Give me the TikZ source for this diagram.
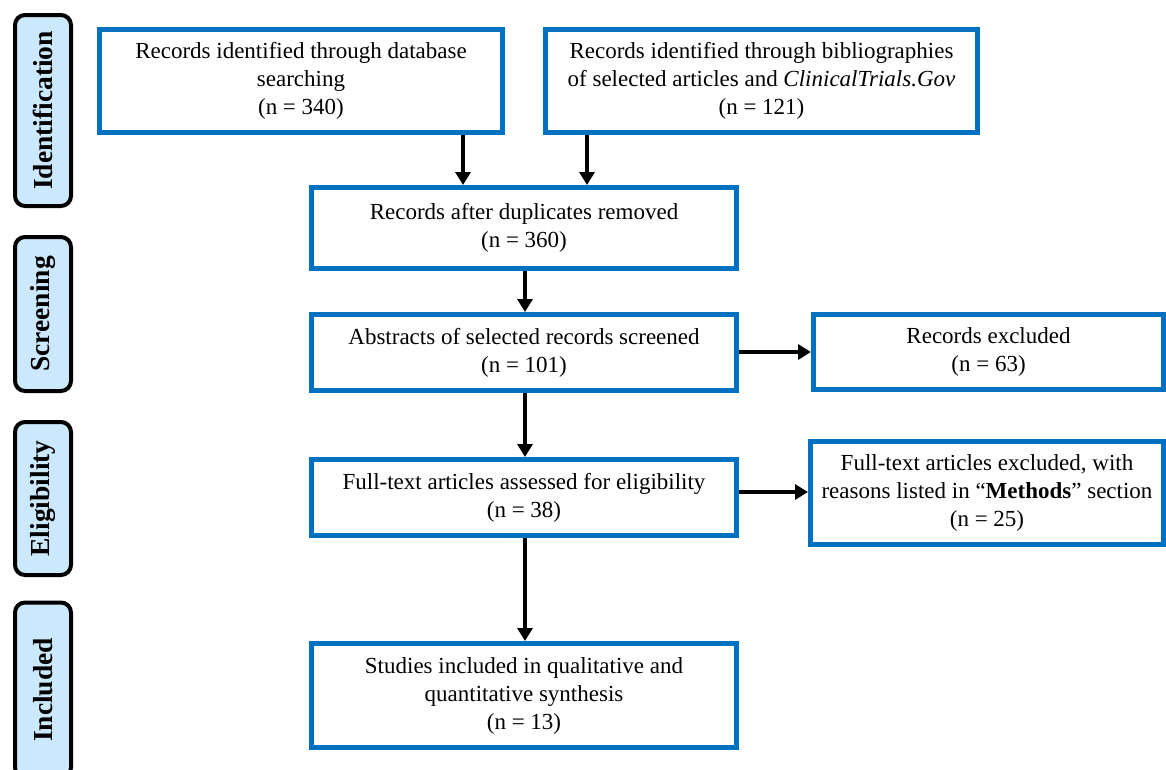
\documentclass[tikz,border=0pt]{standalone}
\usepackage{fontspec}
\setmainfont{Liberation Serif}
\usetikzlibrary{arrows.meta}
\definecolor{boxblue}{RGB}{0,112,192}
\definecolor{labfill}{RGB}{204,232,252}
\begin{document}
\begin{tikzpicture}[x=1pt,y=-1pt,
  flowbox/.style={draw=boxblue, line width=5pt, fill=white, align=center,
    font=\fontsize{23}{28}\selectfont, inner sep=0pt},
  stagebox/.style={draw=black, line width=4pt, fill=labfill, rounded corners=10pt,
    font=\fontsize{27.5}{30}\selectfont\bfseries, rotate=90, inner sep=0pt},
  arr/.style={line width=4pt, -{Triangle[length=13pt,width=15pt]}}]
\useasboundingbox (0,0) rectangle (1166,769);
\clip (0,0) rectangle (1166,769);
\fill[white] (0,0) rectangle (1166,769);

% stage labels
\node[stagebox, minimum width=191pt, minimum height=56pt] (sid) at (43,110.5) {Identification};
\node[stagebox, minimum width=154pt, minimum height=56pt] (ssc) at (43,314) {Screening};
\node[stagebox, minimum width=153pt, minimum height=56pt] (sel) at (43,498.5) {Eligibility};
\node[stagebox, minimum width=175pt, minimum height=56pt] (sin) at (43,690) {Included};

% flow boxes
\node[flowbox, minimum width=403pt, minimum height=103pt] (b1) at (301,81)
  {Records identified through database\\searching\\(n = 340)};
\node[flowbox, minimum width=432pt, minimum height=103pt] (b2) at (761.5,81)
  {Records identified through bibliographies\\of selected articles and \textit{ClinicalTrials.Gov}\\(n = 121)};
\node[flowbox, minimum width=425pt, minimum height=81pt] (b3) at (524,228)
  {Records after duplicates removed\\(n = 360)};
\node[flowbox, minimum width=425pt, minimum height=76pt] (b4) at (524,352.5)
  {Abstracts of selected records screened\\(n = 101)};
\node[flowbox, minimum width=350pt, minimum height=75pt] (e1) at (988.5,352)
  {Records excluded\\(n = 63)};
\node[flowbox, minimum width=425pt, minimum height=76pt] (b5) at (524,497.5)
  {Full-text articles assessed for eligibility\\(n = 38)};
\node[flowbox, minimum width=353pt, minimum height=103pt] (e2) at (987,493)
  {Full-text articles excluded, with\\reasons listed in “\textbf{Methods}” section\\(n = 25)};
\node[flowbox, minimum width=425pt, minimum height=104pt] (b6) at (524,695.5)
  {Studies included in qualitative and\\quantitative synthesis\\(n = 13)};

% connectors
\coordinate (xa) at (463,0);
\coordinate (xb) at (587,0);
\coordinate (xc) at (525,0);
\coordinate (ya) at (0,352);
\coordinate (yb) at (0,492);
\draw[arr] (b1.south -| xa) -- (b3.north -| xa);
\draw[arr] (b2.south -| xb) -- (b3.north -| xb);
\draw[arr] (b3.south -| xc) -- (b4.north -| xc);
\draw[arr] (b4.south -| xc) -- (b5.north -| xc);
\draw[arr] (b5.south -| xc) -- (b6.north -| xc);
\draw[arr] (b4.east |- ya) -- (e1.west |- ya);
\draw[arr] (b5.east |- yb) -- (e2.west |- yb);
\end{tikzpicture}
\end{document}
